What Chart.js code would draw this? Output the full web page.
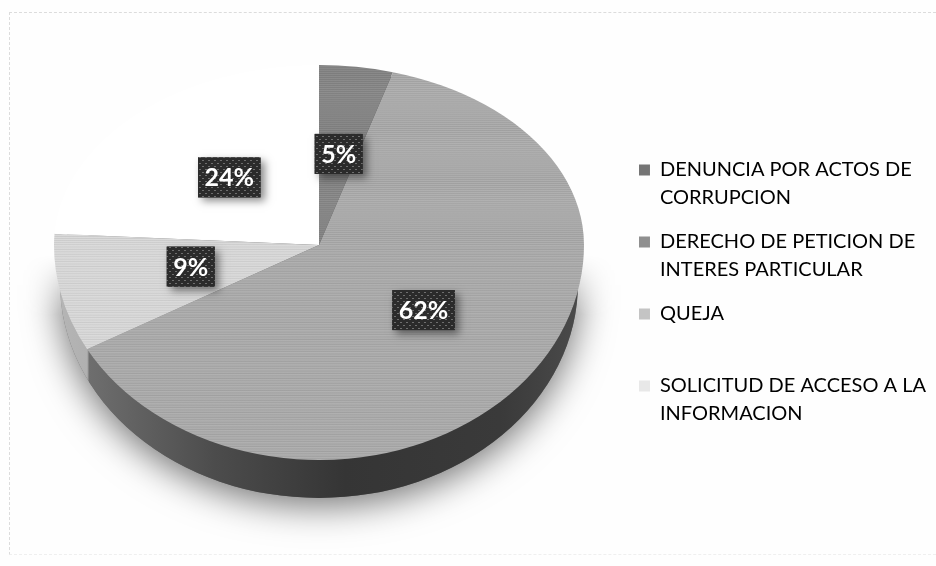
<!DOCTYPE html>
<html>
<head>
<meta charset="utf-8">
<style>
  html, body { margin: 0; padding: 0; background: #fefefe; }
  #wrap { position: relative; width: 936px; height: 566px; overflow: hidden; }
  #wrap:before { content: ''; position: absolute; left: 9px; top: 12px; width: 940px; height: 541px; border: 1px dashed #dcdcdc; border-bottom-color: #efefef; }
  canvas { position: absolute; left: 0; top: 0; }
</style>
<script src="https://cdn.jsdelivr.net/npm/chart.js@4"></script>
</head>
<body>
<div id="wrap"><canvas id="pieChart" width="936" height="566"></canvas></div>
<script>
const categories = [
    ['DENUNCIA POR ACTOS DE', 'CORRUPCION'],
    ['DERECHO DE PETICION DE', 'INTERES PARTICULAR'],
    ['QUEJA', ''],
    ['SOLICITUD DE ACCESO A LA', 'INFORMACION']
];
const values = [4.5, 62.45, 9.05, 24];
const sliceColors = ['#858585', '#ababab', '#d8d8d8', '#ffffff'];
const legendColors = ['#757575', '#8f8f8f', '#c4c4c4', '#e8e8e8'];

// pie is drawn flat by Chart.js then squashed, front half a bit deeper than back
const faceX = 319, faceY = 245;
const radius = 265, backRy = 180, frontRy = 215;
const wallY = 283, wallRx = 259, wallRy = 215;

function stripes(color) {
    if (color === '#ffffff') return color;
    const c = document.createElement('canvas');
    c.width = 4; c.height = 3;
    const g = c.getContext('2d');
    g.fillStyle = color;
    g.fillRect(0, 0, 4, 3);
    g.fillStyle = 'rgba(0,0,0,0.06)';
    g.fillRect(0, 1, 4, 1);
    g.fillStyle = 'rgba(255,255,255,0.08)';
    g.fillRect(0, 2, 4, 1);
    return g.createPattern(c, 'repeat');
}

function dots() {
    const c = document.createElement('canvas');
    c.width = 6; c.height = 6;
    const g = c.getContext('2d');
    g.fillStyle = '#2b2b2b';
    g.fillRect(0, 0, 6, 6);
    g.fillStyle = '#6e6e6e';
    g.fillRect(1, 1, 2, 1);
    g.fillRect(4, 4, 2, 1);
    return g.createPattern(c, 'repeat');
}

function drawWall(ctx, arcs) {
    // shadow under the pie, kept left of the legend and faded out towards the sides
    ctx.save();
    ctx.beginPath();
    ctx.rect(0, 0, 636, 566);
    ctx.clip();
    ctx.save();
    ctx.shadowColor = 'rgba(0,0,0,0.55)';
    ctx.shadowBlur = 36;
    ctx.shadowOffsetY = 8;
    ctx.fillStyle = '#666';
    ctx.beginPath();
    ctx.ellipse(faceX, wallY, wallRx, wallRy, 0, 0, Math.PI * 2);
    ctx.fill();
    ctx.restore();
    const fade = ctx.createLinearGradient(0, faceY + 10, 0, faceY + 70);
    fade.addColorStop(0, 'rgba(0,0,0,1)');
    fade.addColorStop(1, 'rgba(0,0,0,0)');
    ctx.globalCompositeOperation = 'destination-out';
    ctx.fillStyle = fade;
    ctx.fillRect(0, 0, 636, faceY + 70);
    ctx.restore();

    // side of the pie, lighter below the small slice on the left
    const x0 = faceX - wallRx, w = wallRx * 2;
    const split = faceX + radius * Math.sin(arcs[1].endAngle + Math.PI / 2);
    const p = (split - x0) / w;
    const grad = ctx.createLinearGradient(x0, 0, x0 + w, 0);
    grad.addColorStop(0, '#b5b5b5');
    grad.addColorStop(p, '#b0b0b0');
    grad.addColorStop(p + 0.004, '#6e6e6e');
    grad.addColorStop(0.3, '#4c4c4c');
    grad.addColorStop(0.55, '#353535');
    grad.addColorStop(0.85, '#3a3a3a');
    grad.addColorStop(1, '#4a4a4a');
    ctx.fillStyle = grad;
    ctx.beginPath();
    ctx.ellipse(faceX, wallY, wallRx, wallRy, 0, 0, Math.PI * 2);
    ctx.fill();
}

function drawFace(ctx, arcs, clipY, clipH, ry) {
    ctx.save();
    ctx.beginPath();
    ctx.rect(0, clipY, 936, clipH);
    ctx.clip();
    ctx.translate(faceX, faceY);
    ctx.scale(1, ry / radius);
    ctx.translate(-arcs[0].x, -arcs[0].y);
    arcs.forEach(a => a.draw(ctx));
    ctx.restore();
}

function drawLabels(ctx, arcs) {
    ctx.save();
    ctx.font = 'bold 25px Lato';
    ctx.textAlign = 'center';
    ctx.textBaseline = 'middle';
    const pattern = dots();
    arcs.forEach((a, i) => {
        const pt = a.getCenterPoint();
        const dy = pt.y - a.y;
        const x = faceX + pt.x - a.x + 1;
        const y = faceY + dy * (dy < 0 ? backRy : frontRy) / radius - 2;
        const text = Math.round(values[i]) + '%';
        const w = ctx.measureText(text).width + 13, h = 40;

        ctx.save();
        ctx.shadowColor = 'rgba(0,0,0,0.45)';
        ctx.shadowBlur = 8;
        ctx.shadowOffsetX = 4;
        ctx.shadowOffsetY = 4;
        ctx.fillStyle = '#2b2b2b';
        ctx.fillRect(x - w / 2, y - h / 2, w, h);
        ctx.restore();
        ctx.fillStyle = pattern;
        ctx.fillRect(x - w / 2, y - h / 2, w, h);
        ctx.fillStyle = '#fff';
        ctx.fillText(text, x, y + 1);
    });
    ctx.restore();
}

const piePlugin = {
    id: 'tiltedPie',
    beforeDatasetsDraw(chart) {
        const ctx = chart.ctx;
        const arcs = chart.getDatasetMeta(0).data;
        drawWall(ctx, arcs);
        drawFace(ctx, arcs, 0, faceY, backRy);
        drawFace(ctx, arcs, faceY, 566 - faceY, frontRy);
        drawLabels(ctx, arcs);
        return false;
    }
};

new Chart(document.getElementById('pieChart'), {
    type: 'pie',
    data: {
        labels: categories,
        datasets: [{
            data: values,
            backgroundColor: sliceColors.map(stripes),
            borderWidth: 0
        }]
    },
    options: {
        responsive: false,
        animation: false,
        radius: radius,
        rotation: 0,
        layout: { padding: { top: 26, right: 0 } },
        plugins: {
            tooltip: { enabled: false },
            legend: {
                position: 'right',
                labels: {
                    font: { family: 'Lato', size: 20, lineHeight: '28px' },
                    color: '#222',
                    boxWidth: 11,
                    boxHeight: 11,
                    padding: 16,
                    generateLabels: () => categories.map((text, i) => ({
                        text: text,
                        fillStyle: legendColors[i],
                        strokeStyle: legendColors[i],
                        lineWidth: 0,
                        index: i
                    }))
                }
            }
        }
    },
    plugins: [piePlugin]
});
</script>
</body>
</html>
